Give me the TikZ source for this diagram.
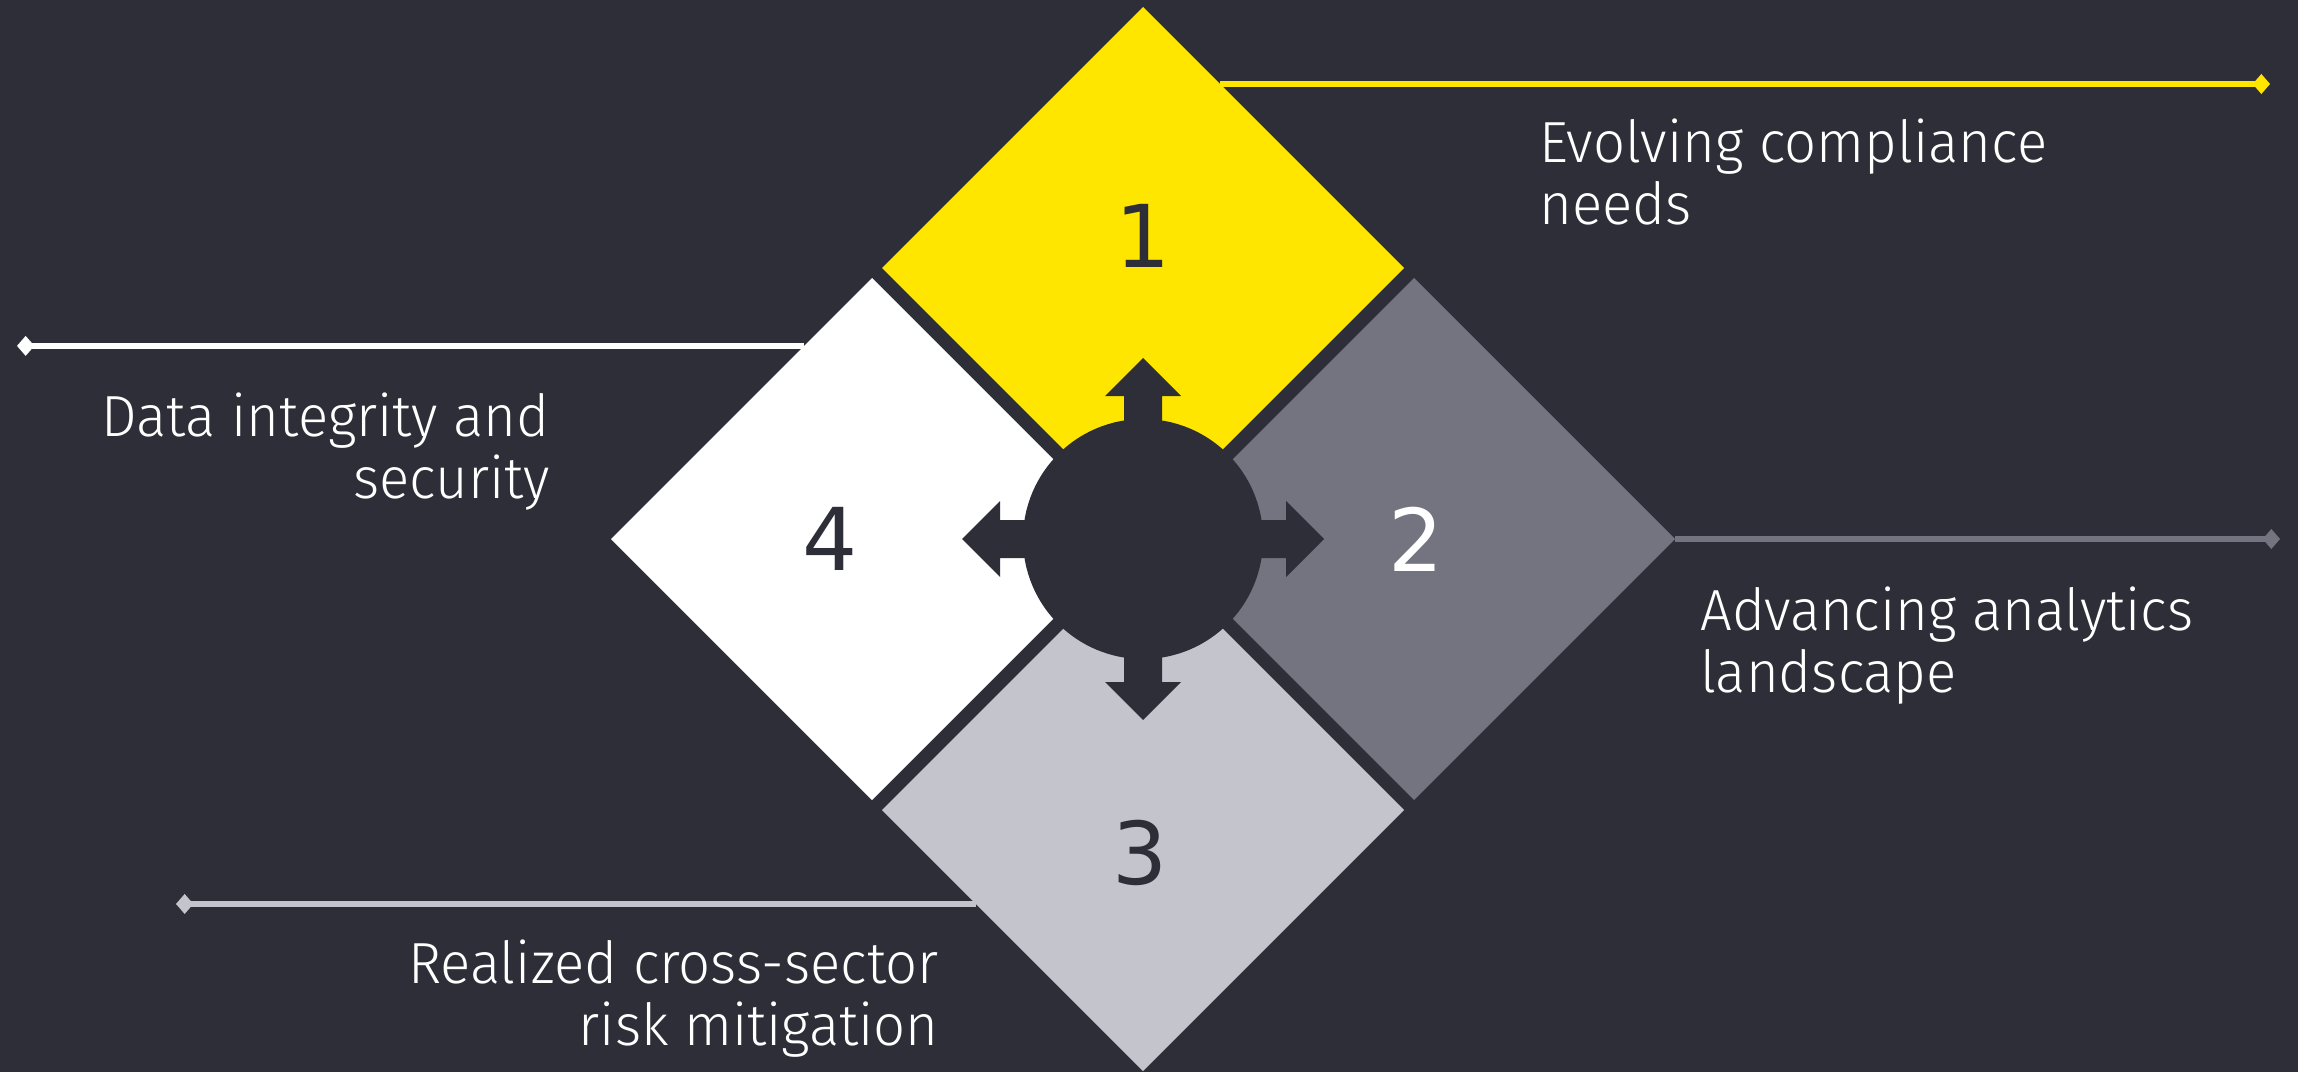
\documentclass[tikz,border=0pt]{standalone}
\usepackage{fontspec}
\setmainfont{Fira Sans}[UprightFont={* Light}, FakeStretch=0.97]
\newfontfamily\digitfont{DejaVu Sans}
\usetikzlibrary{shapes.geometric,arrows.meta,calc,positioning}
\definecolor{eydark}{HTML}{2E2E38}
\definecolor{eyyellow}{HTML}{FFE600}
\definecolor{eygray}{HTML}{747480}
\definecolor{eylight}{HTML}{C4C4CD}
\tikzset{
  tile/.style={diamond, aspect=1, minimum width=391.5pt, minimum height=391.5pt, inner sep=0pt, outer sep=0pt},
  tilenum/.style={font=\digitfont\fontsize{65}{65}\selectfont, inner sep=0pt},
  caption/.style={text=white, inner sep=0pt, font=\fontsize{43.5}{46.5}\selectfont},
  leader/.style={line width=5pt, -{Diamond[length=13pt,width=15pt]}},
}
\begin{document}
\begin{tikzpicture}[x=0.75pt,y=0.75pt,yscale=-1,xscale=1]
        % Background
        \fill[eydark] (0,0) rectangle (2298,1072);
        \coordinate (hub) at (1143,539);
        % free ends of the leader lines
        \coordinate (m1) at (2270,84);
        \coordinate (m2) at (2280,539);
        \coordinate (m3) at (176,904);
        \coordinate (m4) at (17,346);
        %Shape: Diamond 
        \node[tile, fill=eyyellow] (d1) at ($(hub)+(0,-271)$) {};
        \node[tile, fill=eygray] (d2) at ($(hub)+(271,0)$) {};
        \node[tile, fill=eylight] (d3) at ($(hub)+(0,271)$) {};
        \node[tile, fill=white] (d4) at ($(hub)+(-271,0)$) {};
        % where the leader lines leave the tiles
        \coordinate (s1) at ($(d1.north)!0.295!(d1.east)$);
        \coordinate (s3) at ($(d3.west)!0.36!(d3.south)$);
        \coordinate (s4) at ($(d4.north)!0.26!(d4.west)$);
        %Straight Lines 
        \draw[leader, eyyellow] (s1) -- (s1 -| m1);
        \draw[leader, eygray] (d2.east) -- (m2);
        \draw[leader, eylight] (s3) -- (s3 -| m3);
        \draw[leader, white] (s4) -- (s4 -| m4);
        %Shape: Circle 
        \node[circle, fill=eydark, minimum size=180pt, inner sep=0pt] (c) at (hub) {};
        % block arrows out of the circle
        \foreach \a in {0,90,180,270}
          \fill[eydark, shift={(hub)}, rotate=\a] (100,-19) -- (143,-19) -- (143,-38) -- (181,0) -- (143,38) -- (143,19) -- (100,19) -- cycle;
        % Text Node
        \node[tilenum, text=eydark] (n1) at ($(d1)+(0,-32)$) {1};
        \node[tilenum, text=white] (n2) at ($(d2)+(2,0)$) {2};
        \node[tilenum, text=eydark] (n3) at ($(d3)+(-3,43)$) {3};
        \node[tilenum, text=eydark] (n4) at ($(d4)+(-42,0)$) {4};
        % Text Node
        \node[caption, anchor=base west, align=left] (t1) at (1539,224) {Evolving compliance\\needs};
        \node[caption, anchor=base west, align=left] (t2) at (1700,692) {Advancing analytics\\landscape};
        \node[caption, anchor=base east, align=right] (t3) at (939,1045) {Realized cross-sector\\risk mitigation};
        \node[caption, anchor=base east, align=right] (t4) at (550,498) {Data integrity and\\security};
    \end{tikzpicture}
\end{document}
